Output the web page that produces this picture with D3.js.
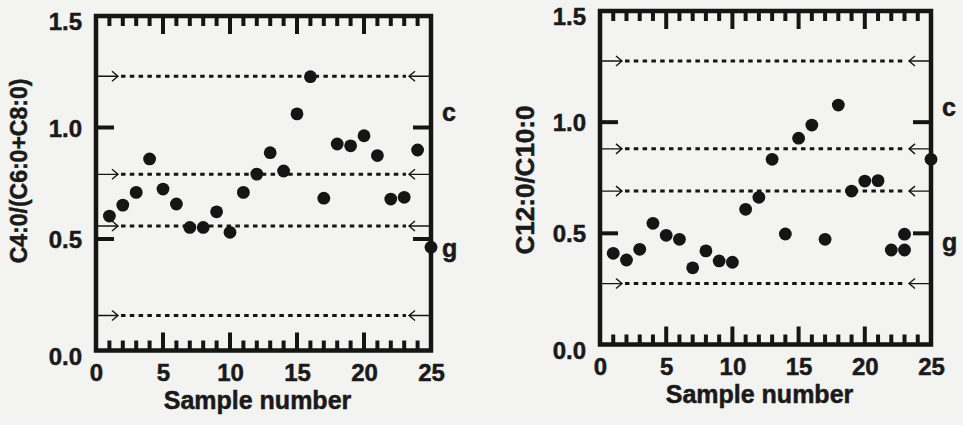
<!DOCTYPE html>
<html>
<head>
<meta charset="utf-8">
<script src="https://cdn.jsdelivr.net/npm/d3@7"></script>
<style>
  html, body { margin: 0; padding: 0; background: #f3f3f1; }
  svg { display: block; }
  text { font-family: "Liberation Sans", Arial, Helvetica, sans-serif; font-weight: bold; fill: #1a1a1a; stroke: #1a1a1a; stroke-width: 0.5px; }
</style>
</head>
<body>
<svg id="chart" width="963" height="425"></svg>
<script>
// ---- data ----
const leftSamples = [1,2,3,4,5,6,7,8,9,10,11,12,13,14,15,16,17,18,19,20,21,22,23,24,25];
const leftRatio = [0.603,0.652,0.709,0.859,0.724,0.657,0.552,0.552,0.622,0.530,0.709,0.791,0.887,0.805,1.061,1.228,0.683,0.926,0.918,0.963,0.874,0.679,0.687,0.899,0.463];
const rightSamples = [1,2,3,4,5,6,7,8,9,10,11,12,13,14,15,16,17,18,19,20,21,22,23,23,25];
const rightRatio = [0.410,0.380,0.428,0.545,0.491,0.473,0.345,0.421,0.376,0.370,0.608,0.662,0.833,0.497,0.928,0.987,0.473,1.077,0.690,0.735,0.737,0.425,0.425,0.496,0.833];
const leftRefLines = [1.23, 0.79, 0.558, 0.157];
const rightRefLines = [1.275, 0.88, 0.69, 0.274];
const yTickValues = [0, 0.5, 1.0, 1.5];
const xTickValues = [0, 5, 10, 15, 20, 25];
const leftYTitle = "C4:0/(C6:0+C8:0)";
const rightYTitle = "C12:0/C10:0";
const xTitle = "Sample number";
const sideLabels = ["c", "g"];
const sideLabelValues = [1.06, 0.45];

const svg = d3.select("#chart");
const ink = "#151515";

function drawPanel(cfg) {
  const g = svg.append("g");
  const x = d3.scaleLinear().domain([0, 25]).range([cfg.left, cfg.right]);
  const y = d3.scaleLinear().domain([0, 1.5]).range([cfg.bottom, cfg.top]);

  // reference dotted lines with arrows
  cfg.refs.forEach(v => {
    const yy = y(v);
    const tipL = x(0) + cfg.arrowLen, tipR = x(25) - cfg.arrowLen;
    g.append("line").attr("x1", tipL + 3).attr("x2", tipR - 3).attr("y1", yy).attr("y2", yy)
      .attr("stroke", ink).attr("stroke-width", 3).attr("stroke-dasharray", "4.5,4.3");
    g.append("path").attr("d", `M${x(0)},${yy}H${tipL}M${tipL-6},${yy-5}L${tipL},${yy}L${tipL-6},${yy+5}`)
      .attr("fill", "none").attr("stroke", ink).attr("stroke-width", 1.4);
    g.append("path").attr("d", `M${x(25)},${yy}H${tipR}M${tipR+6},${yy-5}L${tipR},${yy}L${tipR+6},${yy+5}`)
      .attr("fill", "none").attr("stroke", ink).attr("stroke-width", 1.4);
  });

  // points
  g.selectAll("circle.pt").data(cfg.xs.map((d, i) => [d, cfg.ys[i]])).join("circle")
    .attr("class", "pt").attr("cx", d => x(d[0])).attr("cy", d => y(d[1])).attr("r", 6.4).attr("fill", ink);

  // inward tick marks: top and bottom every sample, longer every 5
  d3.range(1, 25).forEach(t => {
    const len = t % 5 === 0 ? 18 : 10;
    g.append("line").attr("x1", x(t)).attr("x2", x(t)).attr("y1", cfg.top).attr("y2", cfg.top + len)
      .attr("stroke", ink).attr("stroke-width", 4);
    g.append("line").attr("x1", x(t)).attr("x2", x(t)).attr("y1", cfg.bottom).attr("y2", cfg.bottom - len)
      .attr("stroke", ink).attr("stroke-width", 4);
  });
  [0.5, 1.0].forEach(v => {
    g.append("line").attr("x1", cfg.left).attr("x2", cfg.left + 18).attr("y1", y(v)).attr("y2", y(v))
      .attr("stroke", ink).attr("stroke-width", 4);
    g.append("line").attr("x1", cfg.right).attr("x2", cfg.right - 18).attr("y1", y(v)).attr("y2", y(v))
      .attr("stroke", ink).attr("stroke-width", 4);
  });

  // frame
  g.append("rect").attr("x", cfg.left).attr("y", cfg.top)
    .attr("width", cfg.right - cfg.left).attr("height", cfg.bottom - cfg.top)
    .attr("fill", "none").attr("stroke", ink).attr("stroke-width", 4.5);

  // axis labels via d3 axes (no lines)
  const xAxis = d3.axisBottom(x).tickValues(xTickValues).tickSize(0).tickPadding(0).tickFormat(d3.format("d"));
  const gx = g.append("g").attr("transform", `translate(0,${cfg.bottom + 30})`).call(xAxis);
  gx.select(".domain").remove();
  gx.selectAll("text").attr("dy", 0).attr("y", 0).style("font-size", "24px")
    .style("font-family", '"Liberation Sans", Arial, sans-serif').style("font-weight", "bold")
    .attr("fill", "#1a1a1a").attr("stroke", "#1a1a1a").attr("stroke-width", 0.5);

  const yAxis = d3.axisLeft(y).tickValues(yTickValues).tickSize(0).tickPadding(0).tickFormat(d3.format(".1f"));
  const gy = g.append("g").attr("transform", `translate(${cfg.left - 14},0)`).call(yAxis);
  gy.select(".domain").remove();
  gy.selectAll("text")
    .attr("dy", d => d === 1.5 ? "0.55em" : d === 0 ? "0.6em" : "0.36em")
    .style("font-size", "24px")
    .style("font-family", '"Liberation Sans", Arial, sans-serif').style("font-weight", "bold")
    .attr("fill", "#1a1a1a").attr("stroke", "#1a1a1a").attr("stroke-width", 0.5);

  // titles
  g.append("text").attr("x", (cfg.left + cfg.right) / 2 - 6).attr("y", cfg.bottom + 58)
    .attr("text-anchor", "middle").style("font-size", "25px").text(xTitle);
  g.append("text").attr("transform", `translate(${cfg.ytX},${cfg.ytY}) rotate(-90)`)
    .attr("text-anchor", "middle").attr("dy", "0.36em").style("font-size", cfg.ytSize + "px").text(cfg.yTitle);

  // side labels
  sideLabels.forEach((s, i) => {
    g.append("text").attr("x", cfg.right + 11).attr("y", y(sideLabelValues[i])).attr("dy", "0.27em")
      .style("font-size", "25px").text(s);
  });
}

drawPanel({left: 96, right: 431, top: 16, bottom: 350.5, xs: leftSamples, ys: leftRatio,
  refs: leftRefLines, arrowLen: 22, yTitle: leftYTitle, ytX: 19, ytY: 171, ytSize: 23});
drawPanel({left: 600, right: 931, top: 11, bottom: 344.5, xs: rightSamples, ys: rightRatio,
  refs: rightRefLines, arrowLen: 22, yTitle: rightYTitle, ytX: 525, ytY: 180, ytSize: 26});
</script>
</body>
</html>
